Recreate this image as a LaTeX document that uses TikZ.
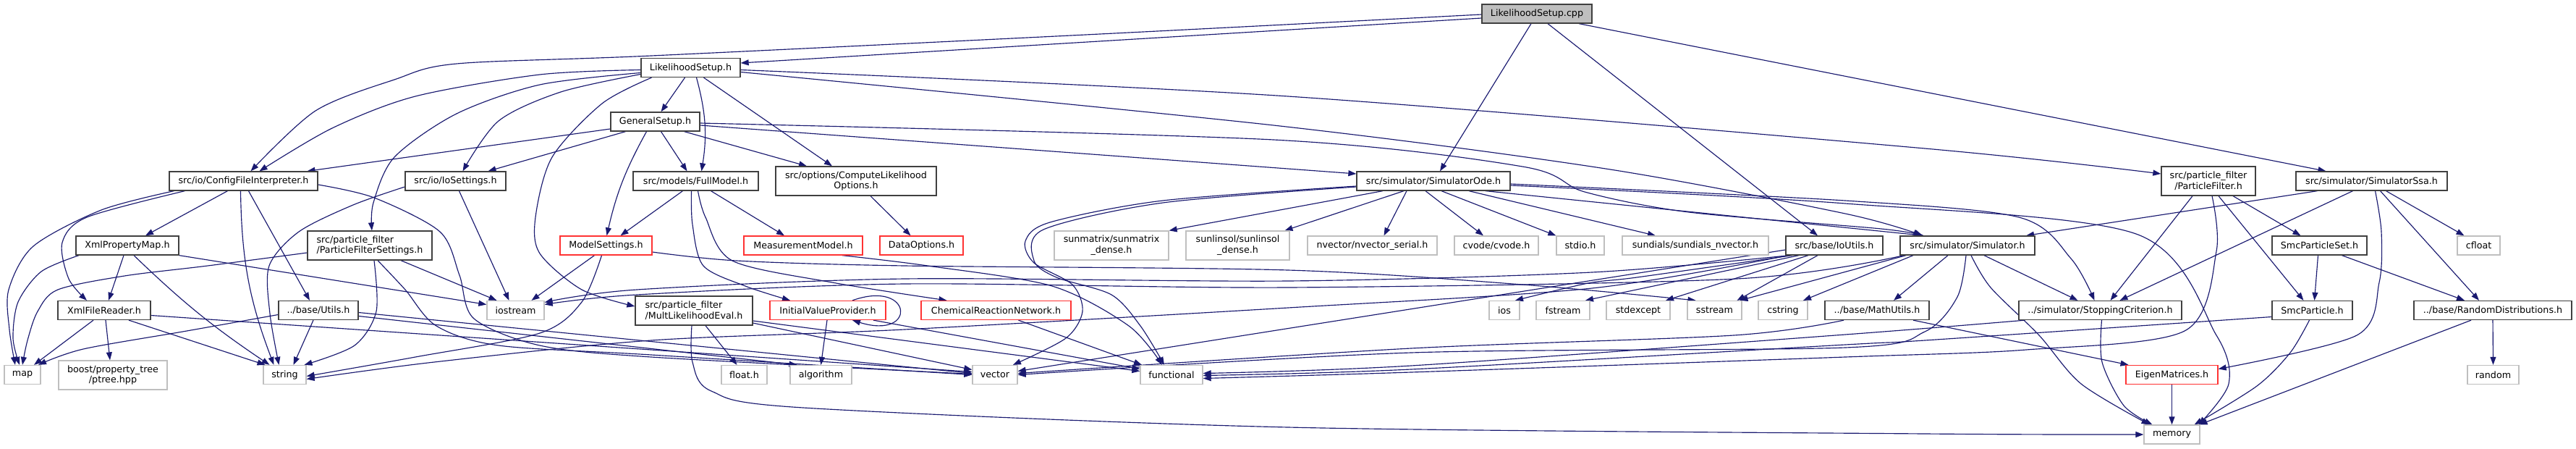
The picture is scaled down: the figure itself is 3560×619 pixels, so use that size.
\documentclass[tikz,border=0pt]{standalone}
\usepackage{fontspec}
\setmainfont{DejaVu Sans}
\usetikzlibrary{arrows.meta,backgrounds}
\definecolor{mblue}{HTML}{191970}
\definecolor{nblack}{HTML}{404040}
\definecolor{ngray}{HTML}{BFBFBF}
\definecolor{nred}{HTML}{FF3333}
\definecolor{cppgray}{HTML}{BFBFBF}
\newcommand\ndfont{\fontsize{12.7}{14.7}\selectfont}
\tikzset{
 nb/.style={draw=nblack, line width=1.3pt, fill=white, inner sep=0pt, minimum height=26pt, font=\ndfont, align=center},
 nb2/.style={nb, minimum height=40pt},
 nbl/.style={nb2, align=left},
 ng/.style={nb, draw=ngray},
 ng2/.style={nb2, draw=ngray},
 nr/.style={nb, draw=nred},
 edge/.style={draw=mblue, line width=1.15pt, -{Triangle[length=11pt,width=8pt]}},
}
\begin{document}
\begin{tikzpicture}[x=1pt,y=-1pt]
\useasboundingbox (0,0) rectangle (3560,619);
% nodes
\node[nb, fill=cppgray, minimum width=152pt] (cpp) at (2124,19) {LikelihoodSetup.cpp};
\node[nb, minimum width=137pt] (lsh) at (954.5,93.5) {LikelihoodSetup.h};
\node[nb, minimum width=123pt] (gen) at (905.5,168) {GeneralSetup.h};
\node[nb, minimum width=205pt] (cfi) at (336.5,250) {src/io/ConfigFileInterpreter.h};
\node[nb, minimum width=139pt] (iosS) at (629.5,250) {src/io/IoSettings.h};
\node[nb, minimum width=173pt] (fm) at (961.5,250) {src/models/FullModel.h};
\node[nb2, minimum width=222pt] (clo) at (1183,250) {src/options/ComputeLikelihood\\Options.h};
\node[nb, minimum width=212pt] (ode) at (1981,250) {src/simulator/SimulatorOde.h};
\node[nb2, minimum width=130pt] (pf) at (3052,250) {src/particle\_filter\\/ParticleFilter.h};
\node[nb, minimum width=209pt] (ssa) at (3277.5,250) {src/simulator/SimulatorSsa.h};
\node[nb, minimum width=142pt] (xpm) at (176,339) {XmlPropertyMap.h};
\node[nbl, minimum width=172pt] (pfs) at (511,339) {src/particle\_filter\\/ParticleFilterSettings.h};
\node[nr, minimum width=127pt] (ms) at (837.5,339) {ModelSettings.h};
\node[nr, minimum width=164pt] (mm) at (1110,339) {MeasurementModel.h};
\node[nr, minimum width=115pt] (dop) at (1273.5,339) {DataOptions.h};
\node[ng2, minimum width=158pt] (sunm) at (1536,339) {sunmatrix/sunmatrix\\\_dense.h};
\node[ng2, minimum width=143pt] (sunl) at (1710.5,339) {sunlinsol/sunlinsol\\\_dense.h};
\node[ng, minimum width=179pt] (nvs) at (1896.5,339) {nvector/nvector\_serial.h};
\node[ng, minimum width=116pt] (cvode) at (2068,339) {cvode/cvode.h};
\node[ng, minimum width=66pt] (stdio) at (2184,339) {stdio.h};
\node[ng, minimum width=202pt] (sund) at (2343,339) {sundials/sundials\_nvector.h};
\node[nb, minimum width=134pt] (iou) at (2535,339) {src/base/IoUtils.h};
\node[nb, minimum width=186pt] (sim) at (2719,339) {src/simulator/Simulator.h};
\node[nb, minimum width=131pt] (sps) at (3205.5,339) {SmcParticleSet.h};
\node[ng, minimum width=59pt] (cfloat) at (3425.5,339) {cfloat};
\node[nb, minimum width=128pt] (xfr) at (144,428.5) {XmlFileReader.h};
\node[nb, minimum width=110pt] (utils) at (440,428.5) {../base/Utils.h};
\node[ng, minimum width=79pt] (iostream) at (712.5,428.5) {iostream};
\node[nbl, minimum width=162pt] (mle) at (959,429) {src/particle\_filter\\/MultLikelihoodEval.h};
\node[nr, minimum width=160pt] (ivp) at (1144,428.5) {InitialValueProvider.h};
\node[nr, minimum width=207pt] (crn) at (1376.5,428.5) {ChemicalReactionNetwork.h};
\node[ng, minimum width=42pt] (iosh) at (2079,428.5) {ios};
\node[ng, minimum width=74pt] (fstream) at (2160,428.5) {fstream};
\node[ng, minimum width=88pt] (stdexcept) at (2264,428.5) {stdexcept};
\node[ng, minimum width=75pt] (sstream) at (2369.5,428.5) {sstream};
\node[ng, minimum width=68pt] (cstring) at (2464,428.5) {cstring};
\node[nb, minimum width=144pt] (mu) at (2594,428.5) {../base/MathUtils.h};
\node[nb, minimum width=225pt] (sc) at (2902.5,428.5) {../simulator/StoppingCriterion.h};
\node[nb, minimum width=111pt] (sp) at (3195.5,428.5) {SmcParticle.h};
\node[nb, minimum width=218pt] (rd) at (3445,428.5) {../base/RandomDistributions.h};
\node[ng, minimum width=50pt] (map) at (31,517.5) {map};
\node[ng2, minimum width=150pt] (boost) at (156,518) {boost/property\_tree\\/ptree.hpp};
\node[ng, minimum width=59pt] (string) at (393.5,517.5) {string};
\node[ng, minimum width=63pt] (floath) at (1028.5,517.5) {float.h};
\node[ng, minimum width=85pt] (algorithm) at (1134.5,517.5) {algorithm};
\node[ng, minimum width=62pt] (vector) at (1375,517.5) {vector};
\node[ng, minimum width=86pt] (functional) at (1619,517.5) {functional};
\node[nr, minimum width=127pt] (eigen) at (3001.5,517.5) {EigenMatrices.h};
\node[ng, minimum width=71pt] (random) at (3445.5,517.5) {random};
\node[ng, minimum width=77pt] (memory) at (3001.5,600) {memory};
\begin{pgfonlayer}{background}
\fill[white] (0,0) rectangle (3560,619);
% cpp
\draw[edge] ([yshift=-6pt]cpp.west) -- ([yshift=6.5pt]lsh.east);
\draw[edge] plot[smooth] coordinates {([yshift=-1pt]cpp.west) (1500,48) (900,77) (631,88) (545,110) (436,153) ([xshift=10pt]cfi.north)};
\draw[edge] ([xshift=-8pt]cpp.south) -- ([xshift=9pt]ode.north);
\draw[edge] ([xshift=15pt]cpp.south) -- ([xshift=-23pt]iou.north);
\draw[edge] ([xshift=58pt]cpp.south) -- ([xshift=-63pt]ssa.north);
% lsh
\draw[edge] ([xshift=-8pt]lsh.south) -- ([xshift=8pt]gen.north);
\draw[edge] ([xshift=8pt]lsh.south) to[bend left=12] ([xshift=8pt]fm.north);
\draw[edge] ([xshift=18pt]lsh.south) -- ([xshift=-33pt]clo.north);
\draw[edge] plot[smooth] coordinates {([yshift=-3pt]lsh.west) (746,103) (574,133) (459,177) ([xshift=22pt]cfi.north)};
\draw[edge] plot[smooth] coordinates {([yshift=-7pt]lsh.west) (746,117) (631,157) (545,217) (516,280) ([xshift=3pt]pfs.north)};
\draw[edge] plot[smooth] coordinates {([yshift=-9pt]lsh.west) (775,127) (689,167) ([xshift=10pt]iosS.north)};
\draw[edge] plot[smooth] coordinates {([xshift=-54pt]lsh.south) (832,143) (763,217) (740,300) (746,350) (804,400) ([yshift=6pt]mle.west)};
\draw[edge] plot[smooth] coordinates {([yshift=-3pt]lsh.east) (1780,133) (2660,205) ([yshift=10pt]pf.west)};
\draw[edge] plot[smooth] coordinates {([yshift=-6pt]lsh.east) (1760,173) (2219,233) (2550,295) ([xshift=-62pt]sim.north)};
% gen
\draw[edge] ([yshift=-10pt]gen.west) -- ([xshift=88pt]cfi.north);
\draw[edge] ([xshift=-41pt]gen.south) -- ([xshift=45pt]iosS.north);
\draw[edge] ([xshift=-12pt]gen.south) to[bend right=8] ([xshift=1pt]ms.north);
\draw[edge] ([xshift=8pt]gen.south) -- ([xshift=-12pt]fm.north);
\draw[edge] ([xshift=40pt]gen.south) -- ([xshift=-68pt]clo.north);
\draw[edge] ([yshift=-5pt]gen.east) -- ([yshift=10pt]ode.west);
\draw[edge] plot[smooth] coordinates {([yshift=-2pt]gen.east) (1760,193) (2104,230) (2190,265) (2334,293) (2600,316) ([xshift=-64pt]sim.north)};
% cfi
\draw[edge] plot[smooth] coordinates {([xshift=-96pt]cfi.south) (140,290) (46,340) (12,400) (13,455) ([xshift=-10pt]map.north)};
\draw[edge] plot[smooth] coordinates {([xshift=-81pt]cfi.south) (120,300) (86,335) (95,385) ([xshift=-24pt]xfr.north)};
\draw[edge] ([xshift=-22pt]cfi.south) -- ([xshift=25pt]xpm.north);
\draw[edge] ([xshift=-4pt]cfi.south) to[bend right=10] ([xshift=-15pt]string.north);
\draw[edge] ([xshift=7pt]cfi.south) -- ([xshift=-12pt]utils.north);
\draw[edge] plot[smooth] coordinates {([yshift=-5pt]cfi.east) (517,273) (608,320) (635,380) (655,440) (746,477) (900,493) ([yshift=1pt]vector.west)};
% IoSettings
\draw[edge] plot[smooth] coordinates {([yshift=-8pt]iosS.west) (488,283) (413,320) (372,367) (373,433) ([xshift=-8pt]string.north)};
\draw[edge] ([xshift=5pt]iosS.south) -- ([xshift=-9pt]iostream.north);
% xpm
\draw[edge] ([xshift=-5pt]xpm.south) -- ([xshift=6pt]xfr.north);
\draw[edge] ([xshift=9pt]xpm.south) to[bend right=5] ([xshift=-21pt]string.north);
\draw[edge] (xpm.south east) -- ([yshift=8pt]iostream.west);
\draw[edge] plot[smooth] coordinates {([xshift=-67pt]xpm.south) (57,375) (25,417) (18,467) ([xshift=-4pt]map.north)};
% xfr
\draw[edge] ([xshift=-15pt]xfr.south) -- ([xshift=16pt]map.north);
\draw[edge] ([xshift=2pt]xfr.south) -- ([xshift=-4pt]boost.north);
\draw[edge] ([xshift=34pt]xfr.south) -- ([xshift=-27pt]string.north);
\draw[edge] ([yshift=-7pt]xfr.east) -- ([yshift=4pt]vector.west);
% utils
\draw[edge] plot[smooth] coordinates {([yshift=-6pt]utils.west) (258,457) (115,482) ([xshift=22pt]map.north)};
\draw[edge] ([xshift=-7pt]utils.south) -- ([xshift=12pt]string.north);
\draw[edge] ([yshift=-3pt]utils.east) -- ([yshift=2pt]vector.west);
\draw[edge] ([yshift=-8pt]utils.east) -- ([xshift=-33pt]algorithm.north);
% pfs
\draw[edge] plot[smooth] coordinates {([yshift=-10pt]pfs.west) (287,367) (172,381) (80,400) (52,430) (38,470) (map.north)};
\draw[edge] plot[smooth] coordinates {([xshift=6pt]pfs.south) (520,430) (490,477) ([xshift=27pt]string.north)};
\draw[edge] ([xshift=43pt]pfs.south) -- ([xshift=-26pt]iostream.north);
\draw[edge] plot[smooth] coordinates {([xshift=11pt]pfs.south) (560,400) (603,450) (689,477) (900,490) (vector.west)};
% ms
\draw[edge] ([xshift=-16pt]ms.south) -- ([xshift=22pt]iostream.north);
\draw[edge] plot[smooth] coordinates {([xshift=-6pt]ms.south) (804,417) (746,460) (574,493) ([yshift=-2pt]string.east)};
\draw[edge] plot[smooth] coordinates {([yshift=-9pt]ms.east) (1018,360) (1250,367) (1780,373) (2104,393) ([xshift=-26pt]sstream.north)};
% fm
\draw[edge] ([xshift=-18pt]fm.south) -- ([xshift=20pt]ms.north);
\draw[edge] ([xshift=21pt]fm.south) -- ([xshift=-26pt]mm.north);
\draw[edge] plot[smooth] coordinates {([xshift=-6pt]fm.south) (957,310) (972,367) (1030,395) ([xshift=-52pt]ivp.north)};
\draw[edge] plot[smooth] coordinates {([xshift=3pt]fm.south) (975,300) (1012,360) (1150,390) ([xshift=-68pt]crn.north)};
% clo, mm
\draw[edge] ([xshift=20pt]clo.south) -- ([xshift=-15pt]dop.north);
\draw[edge] plot[smooth] coordinates {([xshift=54pt]mm.south) (1282,367) (1454,395) (1560,450) ([xshift=-13pt]functional.north)};
% mle
\draw[edge] plot[smooth] coordinates {([xshift=-3pt]mle.south) (957,500) (983,540) (1110,563) (1780,590) (2660,599) (memory.west)};
\draw[edge] ([xshift=16pt]mle.south) -- ([xshift=-10pt]floath.north);
\draw[edge] ([yshift=-17pt]mle.east) -- ([yshift=7pt]vector.west);
\draw[edge] ([yshift=-14pt]mle.east) -- ([yshift=5pt]functional.west);
% ivp
\draw[edge] ([xshift=34pt]ivp.north) .. controls (1262,385) and (1268,470) .. ([xshift=34pt]ivp.south);
\draw[edge] ([xshift=-1pt]ivp.south) -- (algorithm.north);
\draw[edge] ([xshift=63pt]ivp.south) -- ([yshift=8pt]functional.west);
% crn
\draw[edge] ([xshift=31pt]crn.south) -- ([xshift=-41pt]functional.north);
% ode
\draw[edge] ([xshift=-70pt]ode.south) -- (sunm.north east);
\draw[edge] ([xshift=-41pt]ode.south) -- ([xshift=65pt]sunl.north);
\draw[edge] ([xshift=-37pt]ode.south) -- ([xshift=16pt]nvs.north);
\draw[edge] ([xshift=-11pt]ode.south) -- ([xshift=-18pt]cvode.north);
\draw[edge] ([xshift=11pt]ode.south) -- (stdio.north west);
\draw[edge] ([xshift=49pt]ode.south) -- ([xshift=-55pt]sund.north);
\draw[edge] plot[smooth] coordinates {([yshift=-7pt]ode.west) (1607,277) (1451,307) (1417,333) (1429,363) (1482,393) (1496,430) (1473,467) ([xshift=25pt]vector.north)};
\draw[edge] plot[smooth] coordinates {([yshift=-8pt]ode.west) (1607,280) (1442,317) (1429,360) (1460,383) (1536,407) (1576,450) ([xshift=-10pt]functional.north)};
\draw[edge] ([xshift=72pt]ode.south) -- ([xshift=-60pt]sim.north);
\draw[edge] plot[smooth] coordinates {([yshift=-4pt]ode.east) (2550,277) (2790,300) (2862,357) ([xshift=-8pt]sc.north)};
\draw[edge] plot[smooth] coordinates {([yshift=-6pt]ode.east) (2550,281) (2952,323) (3063,463) (3080,530) ([xshift=37pt]memory.north)};
% iou
\draw[edge] plot[smooth] coordinates {([xshift=-58pt]iou.south) (2262,383) (2195,391) ([xshift=15pt]iosh.north)};
\draw[edge] ([xshift=-49pt]iou.south) -- ([xshift=31pt]fstream.north);
\draw[edge] ([xshift=-36pt]iou.south) -- ([xshift=38pt]stdexcept.north);
\draw[edge] ([xshift=-23pt]iou.south) -- ([xshift=31pt]sstream.north);
\draw[edge] plot[smooth] coordinates {([xshift=-62pt]iou.south) (2200,376) (1780,388) (1250,385) (880,400) ([yshift=11pt]iostream.east)};
\draw[edge] plot[smooth] coordinates {([xshift=-64pt]iou.south) (2200,398) (1780,425) (1250,455) (900,470) (600,500) ([yshift=-6pt]string.east)};
\draw[edge] ([yshift=-6pt]iou.west) -- ([yshift=5pt]vector.east);
% sim
\draw[edge] ([xshift=-85pt]sim.south) -- ([xshift=35pt]sstream.north);
\draw[edge] ([xshift=-75pt]sim.south) -- ([xshift=28pt]cstring.north);
\draw[edge] ([xshift=-27pt]sim.south) -- ([xshift=23pt]mu.north);
\draw[edge] ([xshift=23pt]sim.south) -- ([xshift=-31pt]sc.north);
\draw[edge] plot[smooth] coordinates {([xshift=5pt]sim.south) (2751,397) (2818,463) (2876,530) ([xshift=-31pt]memory.north)};
\draw[edge] plot[smooth] coordinates {([xshift=-2pt]sim.south) (2705,410) (2660,458) (2550,480) (1950,487) (vector.east)};
\draw[edge] plot[smooth] coordinates {([xshift=-88pt]sim.south) (2400,385) (1780,397) (1250,392) (880,407) ([yshift=8pt]iostream.east)};
% mu
\draw[edge] ([xshift=50pt]mu.south) -- ([xshift=-60pt]eigen.north);
\draw[edge] plot[smooth] coordinates {([xshift=-46pt]mu.south) (2396,463) (1950,481) ([yshift=2pt]vector.east)};
% sc
\draw[edge] plot[smooth] coordinates {([xshift=2pt]sc.south) (2905,500) (2935,560) ([xshift=-27pt]memory.north)};
\draw[edge] plot[smooth] coordinates {([xshift=-104pt]sc.south) (2550,462) (1950,505) ([yshift=2pt]functional.east)};
% sp
\draw[edge] plot[smooth] coordinates {([xshift=-4pt]sp.south) (3165,487) (3119,533) ([xshift=31pt]memory.north)};
\draw[edge] plot[smooth] coordinates {([yshift=-9pt]sp.west) (2660,470) (2550,476) (1950,510) ([yshift=-1pt]functional.east)};
% pf
\draw[edge] ([xshift=-22pt]pf.south) -- ([xshift=14pt]sc.north);
\draw[edge] ([xshift=14pt]pf.south) -- ([xshift=-12pt]sp.north);
\draw[edge] ([xshift=34pt]pf.south) -- ([xshift=-26pt]sps.north);
\draw[edge] plot[smooth] coordinates {([xshift=5pt]pf.south) (3063,347) (3019,457) (2800,483) (2550,493) (1950,514) ([yshift=-5pt]functional.east)};
% ssa
\draw[edge] ([xshift=-75pt]ssa.south) -- ([xshift=81pt]sim.north);
\draw[edge] ([xshift=-26pt]ssa.south) -- ([xshift=27pt]sc.north);
\draw[edge] plot[smooth] coordinates {([xshift=5pt]ssa.south) (3291,320) (3288,390) (3257,463) ([yshift=8pt]eigen.east)};
\draw[edge] ([xshift=12pt]ssa.south) -- ([xshift=-19pt]rd.north);
\draw[edge] ([xshift=20pt]ssa.south) -- ([xshift=-20pt]cfloat.north);
% sps
\draw[edge] ([xshift=-2pt]sps.south) -- ([xshift=3pt]sp.north);
\draw[edge] ([xshift=31pt]sps.south) -- ([xshift=-39pt]rd.north);
% rd, eigen
\draw[edge] (rd.south) -- (random.north);
\draw[edge] ([xshift=-30pt]rd.south) -- ([xshift=38pt]memory.north);
\draw[edge] (eigen.south) -- (memory.north);
\end{pgfonlayer}
\end{tikzpicture}
\end{document}
